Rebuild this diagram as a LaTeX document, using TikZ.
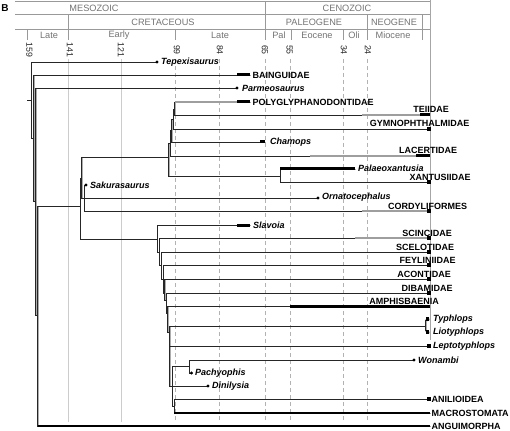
\documentclass[tikz,border=0pt]{standalone}
\usepackage{fontspec}
\setmainfont{Liberation Sans}
\begin{document}
\begin{tikzpicture}[x=1pt,y=-1pt,
  br/.style={draw=black!85, line width=0.8pt, line cap=rect},
  shd/.style={draw=black!32, line width=1pt, line cap=rect},
  ghost/.style={draw=black!38, line width=2.2pt},
  barseg/.style={draw=black, line width=3pt},
  thickline/.style={draw=black, line width=2.8pt},
  gridA/.style={draw=black!20, line width=0.6pt},
  gridB/.style={draw=black!30, line width=0.5pt, dash pattern=on 4pt off 3pt},
  hdr/.style={draw=black!40, line width=0.5pt},
  htxt/.style={text=black!55, font=\fontsize{9.2}{10}\selectfont, inner sep=0pt},
  ticklab/.style={rotate=-90, font=\fontsize{8.8}{9}\selectfont, text=black!85, inner sep=0pt},
  fam/.style={font=\bfseries\fontsize{9.0}{10}\selectfont, inner sep=0pt},
  gen/.style={font=\bfseries\itshape\fontsize{9.0}{10}\selectfont, inner sep=0pt},
  tipdot/.style={circle, fill=black, inner sep=0pt, minimum size=3.4pt},
  endbox/.style={fill=black, inner sep=0pt, minimum width=3.5pt, minimum height=4pt},
]
\useasboundingbox (0,0) rectangle (510,430);
% panel letter
\node[font=\bfseries\fontsize{10}{11}\selectfont, inner sep=0pt] (panel) at (5,8) {B};
% ---------- header ----------
\draw[hdr] (15,1.5) -- (431,1.5);
\draw[hdr] (15,14.5) -- (431,14.5);
\draw[hdr] (15,29) -- (431,29);
\draw[hdr] (265,1.5) -- (265,14.5);
\foreach \x in {68,265,367,422} \draw[hdr] (\x,14.5) -- (\x,29);
\foreach \x in {27,68,175,265,291,343,367,422} \draw[hdr] (\x,29) -- (\x,40);
\node[htxt] (hmes) at (94,8) {MESOZOIC};
\node[htxt] (hcen) at (347,8) {CENOZOIC};
\node[htxt] (hcre) at (163,22) {CRETACEOUS};
\node[htxt] (hpal) at (314,22) {PALEOGENE};
\node[htxt] (hneo) at (394,22) {NEOGENE};
\node[htxt] (hl1) at (49,35) {Late};
\node[htxt] (hear) at (119,35) {Early};
\node[htxt] (hl2) at (220,35) {Late};
\node[htxt] (hpa) at (279,35) {Pal};
\node[htxt] (heo) at (317,35) {Eocene};
\node[htxt] (hol) at (354,35) {Oli};
\node[htxt] (hmio) at (393,35) {Miocene};
% tick labels
\node[ticklab] (t159) at (29.3,50) {159};
\node[ticklab] (t141) at (70,50) {141};
\node[ticklab] (t121) at (121,50) {121};
\node[ticklab] (t99) at (177,50) {99};
\node[ticklab] (t84) at (220,50) {84};
\node[ticklab] (t65) at (265,50) {65};
\node[ticklab] (t55) at (289.5,50) {55};
\node[ticklab] (t34) at (344,50) {34};
\node[ticklab] (t24) at (368,50) {24};
% grid lines
\foreach \x in {68,121} \draw[gridA] (\x,59) -- (\x,422);
\foreach \x in {175,219,265,290,343,367} \draw[gridB] (\x,59) -- (\x,422);
\draw[hdr, draw=black!35] (430,0) -- (430,340);
% ---------- tree coordinates ----------
\coordinate (root) at (27,100);
\coordinate (n1) at (31,100);
\coordinate (n2) at (33.5,138);
\coordinate (n3) at (35.5,201);
\coordinate (n4) at (37.5,315);
\coordinate (S) at (80,206);
\coordinate (T) at (81.5,178);
\coordinate (K) at (84,198);
\coordinate (M5) at (168.3,157);
\coordinate (M4) at (170,143);
\coordinate (M3) at (171.5,130);
\coordinate (M2) at (173,119);
\coordinate (M1) at (174.5,109);
\coordinate (XAN) at (280,176);
\coordinate (N0) at (157,239);
\coordinate (N1) at (159,252);
\coordinate (N2) at (161,265);
\coordinate (N3) at (163,279);
\coordinate (N4) at (164.5,293);
\coordinate (N5) at (166,300);
\coordinate (N6) at (167.5,313);
\coordinate (N7) at (169.5,332);
\coordinate (D) at (172,386);
\coordinate (P) at (189,366);
\coordinate (N9) at (174,406);
% leaves
\coordinate (tep) at (157,62);
\coordinate (baing) at (250,75);
\coordinate (parm) at (237,88);
\coordinate (polyg) at (250,102);
\coordinate (teii) at (430,115);
\coordinate (gymno) at (430,129);
\coordinate (chamops) at (265,142);
\coordinate (lacert) at (430,156);
\coordinate (palaeox) at (355,169);
\coordinate (xantus) at (430,182);
\coordinate (sakura) at (86,185);
\coordinate (ornato) at (318,198);
\coordinate (cordy) at (430,211);
\coordinate (slav) at (250,225);
\coordinate (scinc) at (430,238);
\coordinate (scelo) at (430,252);
\coordinate (feyl) at (430,265);
\coordinate (acont) at (430,279);
\coordinate (dibam) at (430,293);
\coordinate (amphis) at (430,306);
\coordinate (brk) at (425.5,326);
\coordinate (typh) at (429,319);
\coordinate (lioty) at (429,332);
\coordinate (lepto) at (430,346);
\coordinate (wonambi) at (414,360);
\coordinate (pachy) at (191.5,373);
\coordinate (dinil) at (208,386);
\coordinate (anil) at (430,399);
\coordinate (macro) at (430,413);
\coordinate (angui) at (430,426);
% bar / ghost starts
\coordinate (baingS) at (237,75);
\coordinate (polygS) at (237,102);
\coordinate (teiiG) at (362,115);
\coordinate (teiiS) at (420,115);
\coordinate (chamS) at (260,142);
\coordinate (lacG) at (310,156);
\coordinate (lacS) at (416,156);
\coordinate (cordG) at (362,211);
\coordinate (slavS) at (237,225);
\coordinate (scincG) at (355,238);
\coordinate (amphS) at (290,306);
\newcommand\treepaths[1]{%
  \draw[#1] (root) -- (n1);
  \draw[#1] (n1) |- (tep);   \draw[#1] (n1) |- (n2);
  \draw[#1] (n2) |- (baing); \draw[#1] (n2) |- (n3);
  \draw[#1] (n3) |- (parm);  \draw[#1] (n3) |- (n4);
  \draw[#1] (n4) |- (S);     \draw[#1] (n4) |- (angui);
  \draw[#1] (S) |- (T);      \draw[#1] (S) |- (N0);
  \draw[#1] (T) |- (M5);     \draw[#1] (T) |- (K);
  \draw[#1] (K) |- (sakura); \draw[#1] (K) |- (ornato); \draw[#1] (K) |- (cordy);
  \draw[#1] (M5) |- (M4);    \draw[#1] (M5) |- (XAN);
  \draw[#1] (M4) |- (M3);    \draw[#1] (M4) |- (lacert);
  \draw[#1] (M3) |- (M2);    \draw[#1] (M3) |- (chamops);
  \draw[#1] (M2) |- (M1);    \draw[#1] (M2) |- (gymno);
  \draw[#1] (M1) |- (polyg); \draw[#1] (M1) |- (teii);
  \draw[#1] (XAN) |- (palaeox); \draw[#1] (XAN) |- (xantus);
  \draw[#1] (N0) |- (slav);  \draw[#1] (N0) |- (N1);
  \draw[#1] (N1) |- (scinc); \draw[#1] (N1) |- (N2);
  \draw[#1] (N2) |- (scelo); \draw[#1] (N2) |- (N3);
  \draw[#1] (N3) |- (feyl);  \draw[#1] (N3) |- (N4);
  \draw[#1] (N4) |- (acont); \draw[#1] (N4) |- (N5);
  \draw[#1] (N5) |- (dibam); \draw[#1] (N5) |- (N6);
  \draw[#1] (N6) |- (amphis);\draw[#1] (N6) |- (N7);
  \draw[#1] (N7) |- (brk);   \draw[#1] (N7) |- (lepto); \draw[#1] (N7) |- (D);
  \draw[#1, rounded corners=1.5pt] (typh) -| (brk) |- (lioty);
  \draw[#1] (D) |- (P);      \draw[#1] (D) |- (dinil);  \draw[#1] (D) |- (N9);
  \draw[#1] (P) |- (wonambi);\draw[#1] (P) |- (pachy);
  \draw[#1] (N9) |- (anil);  \draw[#1] (N9) |- (macro);
}
\begin{scope}[transform canvas={xshift=0.9pt,yshift=-0.9pt}]
  \treepaths{shd}
\end{scope}
\treepaths{br}
% ghost lineages
\draw[ghost] (M1 |- polyg) -- (polygS);
\draw[ghost] (teiiG) -- (teiiS);
\draw[ghost] (lacG) -- (lacS);
\draw[ghost] (cordG) -- (cordy);
\draw[ghost] (scincG) -- (scinc);
% bars
\draw[barseg] (baingS) -- (baing);
\draw[barseg] (polygS) -- (polyg);
\draw[barseg] (teiiS) -- (teii);
\draw[barseg] (chamS) -- (chamops);
\draw[barseg] (lacS) -- (lacert);
\draw[barseg] (XAN |- palaeox) -- (palaeox);
\draw[barseg] (slavS) -- (slav);
\draw[barseg] (amphS) -- (amphis);
\draw[thickline] (N9 |- macro) -- (macro);
\draw[thickline] (n4 |- angui) -- (angui);
% end boxes
\foreach \c in {gymno,xantus,cordy,scinc,scelo,feyl,acont,dibam,lepto,anil}
  \node[endbox, anchor=east] (box-\c) at ([xshift=1pt]\c) {};
\node[endbox, minimum width=3pt, anchor=east] (box-typh) at ([xshift=0.5pt]typh) {};
\node[endbox, minimum width=3pt, anchor=east] (box-lioty) at ([xshift=0.5pt]lioty) {};
% dots
\foreach \c in {tep,parm,sakura,ornato,wonambi,pachy,dinil}
  \node[tipdot] (dot-\c) at (\c) {};
% ---------- labels ----------
\node[gen, anchor=west] (l-tep) at (161,62) {Tepexisaurus};
\node[fam, anchor=west] (l-baing) at (252.5,75) {BAINGUIDAE};
\node[gen, anchor=west] (l-parm) at (242,88) {Parmeosaurus};
\node[fam, anchor=west] (l-polyg) at (252.5,102) {POLYGLYPHANODONTIDAE};
\node[fam, anchor=base] (l-teii) at (431,113) {TEIIDAE};
\node[fam, anchor=base] (l-gymno) at (419.5,126.5) {GYMNOPHTHALMIDAE};
\node[gen, anchor=west] (l-cham) at (270,142) {Chamops};
\node[fam, anchor=base] (l-lac) at (428,154) {LACERTIDAE};
\node[gen, anchor=west] (l-pal) at (358,168) {Palaeoxantusia};
\node[fam, anchor=base] (l-xan) at (440,180) {XANTUSIIDAE};
\node[gen, anchor=west] (l-sak) at (90,185) {Sakurasaurus};
\node[gen, anchor=west] (l-orn) at (322,197) {Ornatocephalus};
\node[fam, anchor=base] (l-cor) at (427.5,209) {CORDYLIFORMES};
\node[gen, anchor=west] (l-slav) at (253,225) {Slavoia};
\node[fam, anchor=base] (l-scinc) at (427,236) {SCINCIDAE};
\node[fam, anchor=base] (l-scelo) at (425,250) {SCELOTIDAE};
\node[fam, anchor=base] (l-feyl) at (427.5,263) {FEYLINIIDAE};
\node[fam, anchor=base] (l-acont) at (424,277) {ACONTIDAE};
\node[fam, anchor=base] (l-dibam) at (427,291) {DIBAMIDAE};
\node[fam, anchor=base] (l-amph) at (404,304) {AMPHISBAENIA};
\node[gen, anchor=west] (l-typh) at (433,319) {Typhlops};
\node[gen, anchor=west] (l-lioty) at (433,332) {Liotyphlops};
\node[gen, anchor=west] (l-lepto) at (433,346) {Leptotyphlops};
\node[gen, anchor=west] (l-won) at (418,360) {Wonambi};
\node[gen, anchor=west] (l-pach) at (195,373) {Pachyophis};
\node[gen, anchor=west] (l-din) at (212,386) {Dinilysia};
\node[fam, anchor=west] (l-anil) at (431.5,399) {ANILIOIDEA};
\node[fam, anchor=west] (l-macro) at (431.5,413) {MACROSTOMATA};
\node[fam, anchor=west] (l-angui) at (431.5,426) {ANGUIMORPHA};
\end{tikzpicture}
\end{document}
